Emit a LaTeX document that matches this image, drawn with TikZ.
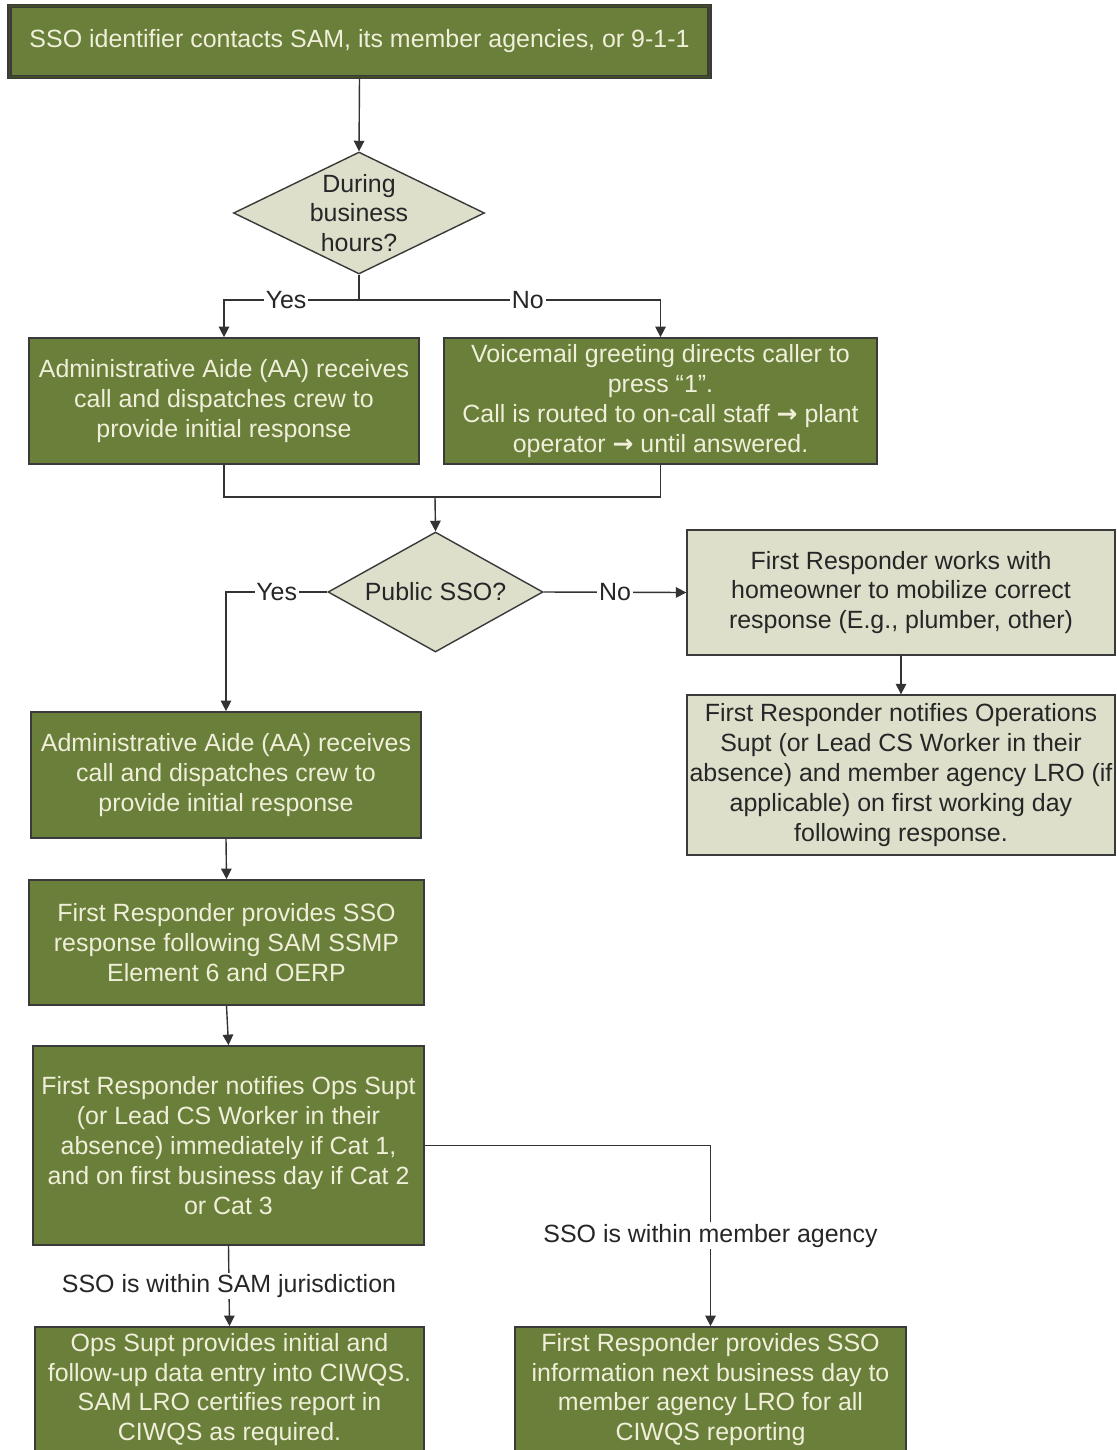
\documentclass[tikz,border=0pt]{standalone}
\usepackage{fontspec}
\setmainfont{Liberation Sans}
\newfontfamily\arrowfont{DejaVu Sans}
\usepackage{tikz}
\usetikzlibrary{arrows,arrows.meta,shapes,positioning}
\tikzset{>={Triangle[length=6pt,width=6pt]}}

\definecolor{boxgreen}{HTML}{6A7F3A}
\definecolor{boxtext}{HTML}{F0EFDA}
\definecolor{boxgrey}{HTML}{DDDFCB}
\definecolor{edgegrey}{HTML}{3A3A3A}

\newcommand{\toarrow}{{\arrowfont\bfseries →}}

\tikzset{
  greenbox/.style={draw=edgegrey, line width=1pt, fill=boxgreen, text=boxtext,
    align=center, inner sep=2pt},
  greybox/.style={draw=edgegrey, line width=0.8pt, fill=boxgrey, text=black!85,
    align=center, inner sep=2pt},
  decision/.style={draw=edgegrey, line width=0.8pt, fill=boxgrey, shape=diamond,
    inner sep=0pt},
  flow/.style={draw=black!80, line width=0.8pt},
  branch/.style={fill=white, inner sep=1pt, text=black!85}
}

\begin{document}
\begin{tikzpicture}[x=0.02cm, y=-0.02cm, font=\fontsize{14.2}{17}\selectfont]
  \clip (0,0) rectangle (1116,1450);
  \fill[white] (0,0) rectangle (1116,1450);

  % top of the chart
  \node[greenbox, double=boxgreen!60!black, double distance=0.7pt, line width=1pt,
        minimum width=14.0cm, minimum height=1.42cm] (contact) at (359.5,41.5)
        {SSO identifier contacts SAM, its member agencies, or 9-1-1};
  \node[decision, minimum width=5.02cm, minimum height=2.44cm,
        label={[align=center, text=black!85]center:During\\business\\hours?}] (hours) at (359,213) {};

  \node[greenbox, minimum width=7.8cm, minimum height=2.52cm] (aide) at (224,401)
        {Administrative Aide (AA) receives\\call and dispatches crew to\\provide initial response};
  \node[greenbox, minimum width=8.66cm, minimum height=2.52cm] (voicemail) at (660.5,401)
        {Voicemail greeting directs caller to\\press “1”.\\Call is routed to on-call staff \toarrow\ plant\\operator \toarrow\ until answered.};

  \coordinate (split) at (359,300);
  \coordinate (merge) at (435,497);

  \draw[flow,->] (contact.south) -- (hours.north);
  \draw[flow] (hours.south) -- (split);
  \draw[flow,->] (split) -| node[branch, pos=0.27] {Yes} (aide.north);
  \draw[flow,->] (split) -| node[branch, pos=0.28] {No} (voicemail.north);
  \draw[flow] (aide.south) |- (merge) -| (voicemail.south);

  % public or private
  \node[decision, minimum width=4.3cm, minimum height=2.4cm,
        label={[text=black!85]center:Public SSO?}] (public) at (435.5,592) {};
  \draw[flow,->] (merge) -- (public.north);

  \node[greybox, minimum width=8.56cm, minimum height=2.5cm] (homeowner) at (901,592.5)
        {First Responder works with\\homeowner to mobilize correct\\response (E.g., plumber, other)};
  \node[greybox, minimum width=8.56cm, minimum height=3.2cm, inner sep=0pt] (opsnotice) at (901,775)
        {First Responder notifies Operations\\Supt (or Lead CS Worker in their\\absence) and member agency LRO (if\\applicable) on first working day\\following response.};

  \node[greenbox, minimum width=7.8cm, minimum height=2.52cm] (aidetwo) at (226,775)
        {Administrative Aide (AA) receives\\call and dispatches crew to\\provide initial response};
  \node[greenbox, minimum width=7.9cm, minimum height=2.5cm] (response) at (226.5,942.5)
        {First Responder provides SSO\\response following SAM SSMP\\Element 6 and OERP};
  \node[greenbox, minimum width=7.82cm, minimum height=3.98cm] (notify) at (228.5,1145.5)
        {First Responder notifies Ops Supt\\(or Lead CS Worker in their\\absence) immediately if Cat 1,\\and on first business day if Cat 2\\or Cat 3};

  \draw[flow,->] (public.west) -| node[branch, pos=0.25] {Yes} (aidetwo.north);
  \draw[flow,->] (public.east) -- node[branch] {No} (homeowner.west);
  \draw[flow,->] (homeowner.south) -- (opsnotice.north);
  \draw[flow,->] (aidetwo.south) -- (response.north);
  \draw[flow,->] (response.south) -- (notify.north);

  % reporting
  \node[greenbox, minimum width=7.78cm, minimum height=2.5cm] (ciwqs) at (229.5,1389.5)
        {Ops Supt provides initial and\\follow-up data entry into CIWQS.\\SAM LRO certifies report in\\CIWQS as required.};
  \node[greenbox, minimum width=7.82cm, minimum height=2.5cm] (agency) at (710.5,1389.5)
        {First Responder provides SSO\\information next business day to\\member agency LRO for all\\CIWQS reporting};

  \draw[flow,->] (notify.south) -- node[branch] {SSO is within SAM jurisdiction} (ciwqs.north);
  \draw[flow,->] (notify.east) -| node[branch, pos=0.75] {SSO is within member agency} (agency.north);
\end{tikzpicture}
\end{document}
